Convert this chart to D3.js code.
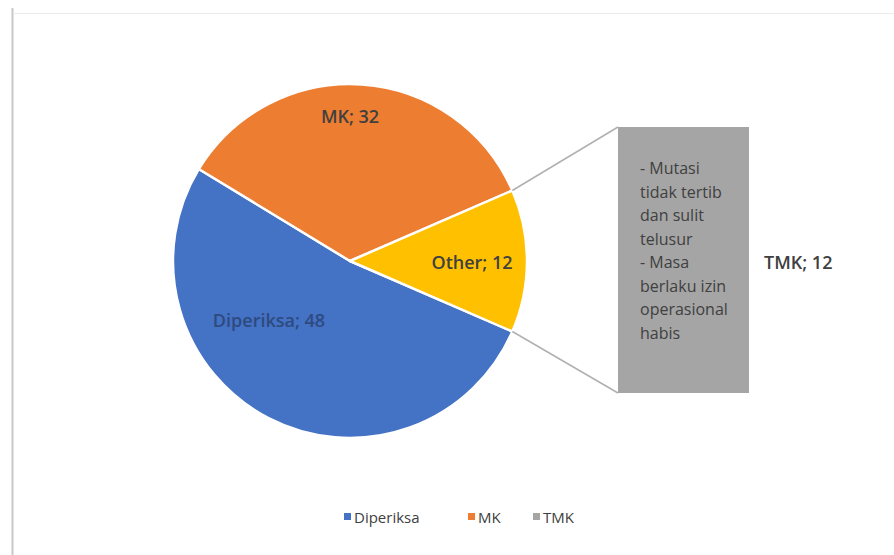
<!DOCTYPE html>
<html><head><meta charset="utf-8">
<script src="https://cdn.jsdelivr.net/npm/d3@7"></script>
<style>body{margin:0;background:#fff;}svg{display:block;font-family:"Open Sans","Liberation Sans",sans-serif;}</style>
</head><body>
<svg id="c" width="894" height="555"></svg>
<script>
const categories = ["Diperiksa", "MK", "Other"];
const values = [48, 32, 12];
const colors = ["#4472c4", "#ed7d31", "#ffc000"];
const barCategories = ["TMK"];
const barValues = [12];
const barColor = "#a5a5a5";
const barNote = ["- Mutasi", "tidak tertib", "dan sulit", "telusur", "- Masa", "berlaku izin", "operasional", "habis"];
const legendItems = ["Diperiksa", "MK", "TMK"];
const legendColors = ["#4472c4", "#ed7d31", "#a5a5a5"];

const svg = d3.select("#c");
// frame
svg.append("line").attr("x1",12.5).attr("x2",12.5).attr("y1",8).attr("y2",555).attr("stroke","#c8c8c8").attr("stroke-width",2);
svg.append("line").attr("x1",13).attr("x2",894).attr("y1",13.5).attr("y2",13.5).attr("stroke","#ececec").attr("stroke-width",1);

const cx = 350, cy = 261, R = 177;
const total = d3.sum(values);
const otherFrac = values[2] / total;
const start = Math.PI / 2 + otherFrac * Math.PI;
const pie = d3.pie().sort(null).startAngle(start).endAngle(start + 2 * Math.PI);
const arcs = pie(values);
const arc = d3.arc().innerRadius(0).outerRadius(R);
const g = svg.append("g").attr("transform", `translate(${cx},${cy})`);
g.selectAll("path").data(arcs).join("path")
  .attr("d", arc).attr("fill", (d, i) => colors[i])
  .attr("stroke", "#fff").attr("stroke-width", 2.5).attr("stroke-linejoin","round");

// labels
const labelPos = [[-81, 59], [0, -145], [122, 1]];
const labelColors = ["#2e4a80", "#404040", "#404040"];
g.selectAll("text.lbl").data(arcs).join("text").attr("class","lbl")
  .attr("x", (d, i) => labelPos[i][0]).attr("y", (d, i) => labelPos[i][1])
  .attr("text-anchor", "middle").attr("dominant-baseline", "central")
  .attr("font-size", 18).attr("font-weight", 600).attr("fill", (d, i) => labelColors[i])
  .text((d, i) => `${categories[i]}; ${values[i]}`);

// bar of pie
const bx = 618, bw = 131, bTop = 127, bBot = 393;
const y = d3.scaleLinear().domain([0, d3.sum(barValues)]).range([bBot, bTop]);
const a0 = arcs[2].startAngle, a1 = arcs[2].endAngle;
const p0 = [cx + R * Math.sin(a0), cy - R * Math.cos(a0)];
const p1 = [cx + R * Math.sin(a1), cy - R * Math.cos(a1)];
svg.append("line").attr("x1", p0[0]).attr("y1", p0[1]).attr("x2", bx).attr("y2", y(barValues[0])).attr("stroke", "#b0b0b0").attr("stroke-width", 1.5);
svg.append("line").attr("x1", p1[0]).attr("y1", p1[1]).attr("x2", bx).attr("y2", y(0)).attr("stroke", "#b0b0b0").attr("stroke-width", 1.5);
svg.selectAll("rect.bar").data(barValues).join("rect").attr("class","bar")
  .attr("x", bx).attr("width", bw).attr("y", d => y(d)).attr("height", d => y(0) - y(d))
  .attr("fill", barColor);
const note = svg.append("text").attr("x", 640).attr("font-size", 16).attr("font-weight", 500).attr("fill", "#404040");
barNote.forEach((t, i) => {
  note.append("tspan").attr("x", 640).attr("y", 174 + i * 23.5).text(t);
});
svg.append("text").attr("x", 764).attr("y", 262).attr("dominant-baseline","central")
  .attr("font-size", 18).attr("font-weight", 600).attr("fill", "#404040").text(`${barCategories[0]}; ${barValues[0]}`);

// legend
const legX = [344, 468, 533];
const leg = svg.append("g");
legendItems.forEach((t, i) => {
  leg.append("rect").attr("x", legX[i]).attr("y", 513).attr("width", 7).attr("height", 7).attr("fill", legendColors[i]);
  leg.append("text").attr("x", legX[i] + 10).attr("y", 517).attr("dominant-baseline","central")
    .attr("font-size", 15).attr("font-weight", 500).attr("fill", "#404040").text(t);
});
</script>
</body></html>
